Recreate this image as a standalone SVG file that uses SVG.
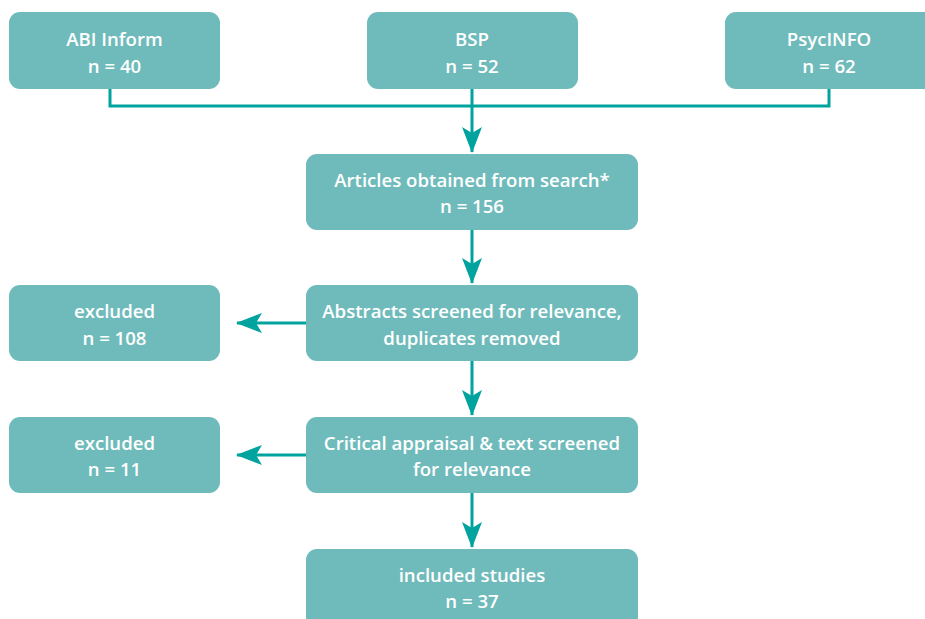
<svg xmlns="http://www.w3.org/2000/svg" width="925" height="619" viewBox="0 0 925 619">
<style>
.box{fill:#6fbbbb}
.t{fill:#ffffff;font-family:"Open Sans","Liberation Sans",sans-serif;font-size:18.6px;font-weight:600;text-anchor:middle}
.c{fill:none;stroke:#00a39e;stroke-width:3}
.ah{fill:#00a39e}
</style>
<defs>
<marker id="arr" viewBox="0 0 26 20" refX="25" refY="10" markerWidth="26" markerHeight="20" markerUnits="userSpaceOnUse" orient="auto">
<path d="M0,0 L26,10 L0,20 L6,10 Z" class="ah"/>
</marker>
</defs>
<rect width="925" height="619" fill="#ffffff"/>
<g id="connectors">
<path class="c" d="M110,89 V106 H829 V89"/>
<path class="c" d="M472,89 V152" marker-end="url(#arr)"/>
<path class="c" d="M472,230 V283" marker-end="url(#arr)"/>
<path class="c" d="M472,361 V415" marker-end="url(#arr)"/>
<path class="c" d="M472,493 V547" marker-end="url(#arr)"/>
<path class="c" d="M306,323 H237" marker-end="url(#arr)"/>
<path class="c" d="M306,455 H237" marker-end="url(#arr)"/>
</g>
<g id="abi"><rect class="box" x="9" y="12" width="211" height="77" rx="11"/><text class="t" x="114.5" y="46">ABI Inform</text><text class="t" x="114.5" y="73">n = 40</text></g>
<g id="bsp"><rect class="box" x="367" y="12" width="211" height="77" rx="11"/><text class="t" x="472" y="46">BSP</text><text class="t" x="472" y="73">n = 52</text></g>
<g id="psycinfo"><rect class="box" x="725" y="12" width="215" height="77" rx="11"/><text class="t" x="829" y="46">PsycINFO</text><text class="t" x="829" y="73">n = 62</text></g>
<g id="articles"><rect class="box" x="306" y="154" width="332" height="76" rx="11"/><text class="t" x="472" y="187">Articles obtained from search*</text><text class="t" x="472" y="213">n = 156</text></g>
<g id="abstracts"><rect class="box" x="306" y="285" width="332" height="76" rx="11"/><text class="t" x="472" y="318">Abstracts screened for relevance,</text><text class="t" x="472" y="345">duplicates removed</text></g>
<g id="excluded1"><rect class="box" x="9" y="285" width="211" height="76" rx="11"/><text class="t" x="114.5" y="318">excluded</text><text class="t" x="114.5" y="345">n = 108</text></g>
<g id="critical"><rect class="box" x="306" y="417" width="332" height="76" rx="11"/><text class="t" x="472" y="450">Critical appraisal &amp; text screened</text><text class="t" x="472" y="476">for relevance</text></g>
<g id="excluded2"><rect class="box" x="9" y="417" width="211" height="76" rx="11"/><text class="t" x="114.5" y="450">excluded</text><text class="t" x="114.5" y="476">n = 11</text></g>
<g id="included"><rect class="box" x="306" y="549" width="332" height="85" rx="11"/><text class="t" x="472" y="582">included studies</text><text class="t" x="472" y="608">n = 37</text></g>
</svg>
